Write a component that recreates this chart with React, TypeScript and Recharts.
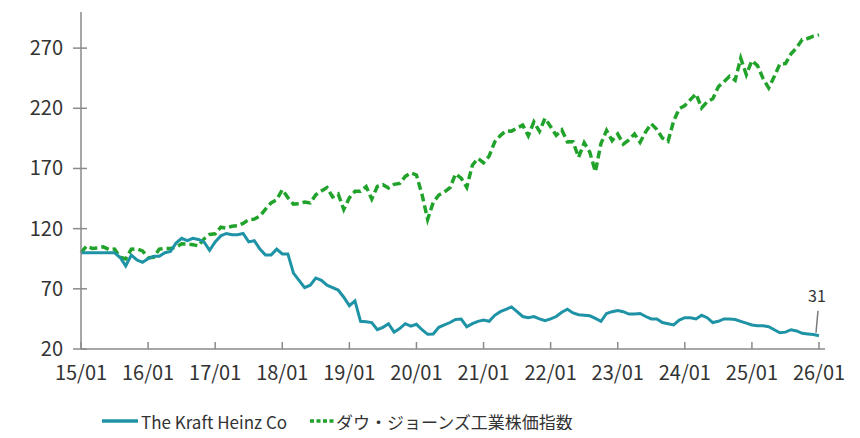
import React from "react";
import { LineChart, Line, XAxis, YAxis, Legend } from "recharts";

// Monthly index values, 2015/01 = 100, from 2015/01 to 2026/01
const kraftHeinz: number[] = [
  100, 100, 100, 100, 100, 100, 100, 96, 89, 98, 94, 92,
  95, 97, 97, 100, 101, 108, 112, 110, 112, 111, 109, 102,
  109, 114, 116, 115, 115, 116, 109, 110, 103, 98, 98, 103,
  99, 99, 83, 77, 71, 73, 79, 77, 73, 71, 69, 63,
  56, 60, 43, 42.7, 42, 36, 38, 41, 34, 37, 41, 39,
  40.5, 36, 32.2, 32.5, 38, 40, 42, 44.5, 44.9, 38.5, 41, 43,
  44, 43, 48, 51, 53, 55, 51, 47, 46, 47, 45, 43.5,
  45, 47, 50.5, 53, 50, 48.5, 48, 47.6, 45.5, 43, 49.5, 51,
  52, 51, 49, 49, 49.5, 47, 45, 45, 42, 41, 40, 44,
  46, 46, 45, 48, 46, 42, 43, 45, 45, 44.5, 43, 41.5,
  40, 39.3, 39.3, 38.5, 36, 33.5, 34, 36, 35, 33, 32.5, 32,
  31,
];

const dowJones: number[] = [
  100, 105.6, 103.6, 103.9, 104.9, 102.7, 103.1, 96.3, 94.9, 102.9, 103.2, 101.5,
  95.9, 96.2, 103.0, 103.5, 103.6, 104.5, 107.4, 107.2, 106.7, 105.7, 111.4, 115.1,
  115.7, 121.2, 120.4, 122.0, 122.4, 124.4, 127.5, 127.9, 130.5, 136.2, 141.4, 144.0,
  152.3, 145.8, 140.4, 140.8, 142.2, 141.4, 148.1, 151.3, 154.1, 146.3, 148.8, 135.9,
  145.6, 151.0, 151.1, 154.9, 144.6, 155.0, 156.5, 153.8, 156.8, 157.6, 163.4, 166.3,
  164.6, 148.2, 127.7, 141.8, 147.9, 150.4, 154.0, 165.6, 161.9, 154.4, 172.7, 178.3,
  174.7, 180.2, 192.1, 197.3, 201.2, 201.0, 203.5, 206.0, 197.2, 208.7, 200.9, 211.7,
  204.7, 197.5, 202.0, 192.1, 192.2, 179.3, 191.4, 183.6, 167.4, 190.7, 201.5, 193.1,
  198.6, 190.3, 193.8, 198.6, 191.7, 200.4, 207.2, 202.3, 195.2, 192.6, 209.4, 219.6,
  222.3, 227.2, 231.9, 220.3, 225.4, 227.9, 237.9, 242.1, 246.6, 243.3, 261.6, 247.9,
  259.5, 255.4, 244.7, 236.9, 246.3, 256.9, 257.1, 265.3, 270.3, 277.1, 278.0, 280.0,
  281,
];

const xTickLabels: string[] = [
  "15/01", "16/01", "17/01", "18/01", "19/01", "20/01",
  "21/01", "22/01", "23/01", "24/01", "25/01", "26/01",
];
const xTickPositions: number[] = xTickLabels.map((_, i) => i * 12);
const yTicks: number[] = [20, 70, 120, 170, 220, 270];

const seriesNames = ["The Kraft Heinz Co", "ダウ・ジョーンズ工業株価指数"];

const data = kraftHeinz.map((v, i) => ({ m: i, khc: v, dj: dowJones[i] }));

const FONT = '"Noto Sans CJK JP", "Noto Sans", sans-serif';
const TEAL = "#1f93a6";
const GREEN = "#21a32b";
const AXIS = "#8a8a8a";
const TEXT = "#333333";

const XTick = (props: any) => {
  const { x, y, payload } = props;
  const label = xTickLabels[Math.round(payload.value / 12)] ?? "";
  return (
    <g>
      <line x1={x} x2={x} y1={y} y2={y - 7} stroke={AXIS} strokeWidth={1.5} />
      <text
        x={x}
        y={y + 24}
        dy="0.35em"
        textAnchor="middle"
        fill={TEXT}
        fontSize={20}
        fontFamily={FONT}
      >
        {label}
      </text>
    </g>
  );
};

const YTick = (props: any) => {
  const { x, y, payload } = props;
  return (
    <g>
      <line x1={x - 8} x2={x + 6} y1={y} y2={y} stroke={AXIS} strokeWidth={1.5} />
      <text
        x={x - 18}
        y={y}
        dy="0.35em"
        textAnchor="end"
        fill={TEXT}
        fontSize={20}
        fontFamily={FONT}
      >
        {payload.value}
      </text>
    </g>
  );
};

const LastLabel = (props: any) => {
  const { x, y, index, value } = props;
  if (index !== kraftHeinz.length - 1) return <g />;
  return (
    <g>
      <line x1={x - 3} y1={y - 3} x2={x - 1} y2={y - 25} stroke="#7a7a7a" strokeWidth={1.5} />
      <text
        x={x - 2}
        y={y - 34}
        textAnchor="middle"
        fill={TEXT}
        fontSize={16}
        fontFamily={FONT}
      >
        {Math.round(value)}
      </text>
    </g>
  );
};

const LegendContent = () => (
  <div
    style={{
      position: "relative",
      height: 41,
      width: 844,
      fontFamily: FONT,
      fontSize: 17,
      color: TEXT,
    }}
  >
    <div style={{ position: "absolute", left: 94, top: 20, display: "flex", alignItems: "center", height: 24 }}>
      <svg width={36} height={6} style={{ marginRight: 3 }}>
        <line x1={0} x2={36} y1={3} y2={3} stroke={TEAL} strokeWidth={3.5} />
      </svg>
      <span style={{ whiteSpace: "nowrap" }}>{seriesNames[0]}</span>
    </div>
    <div style={{ position: "absolute", left: 302, top: 20, display: "flex", alignItems: "center", height: 24 }}>
      <svg width={24} height={6} style={{ marginRight: 2 }}>
        <line x1={0} x2={24} y1={3} y2={3} stroke={GREEN} strokeWidth={3.5} strokeDasharray="4 2.5" />
      </svg>
      <span style={{ whiteSpace: "nowrap" }}>{seriesNames[1]}</span>
    </div>
  </div>
);

export default function App() {
  return (
    <div style={{ width: 844, height: 422, fontFamily: FONT }}>
      <LineChart
        width={844}
        height={422}
        data={data}
        margin={{ top: 4, right: 27, left: 0, bottom: 0 }}
      >
        <XAxis
          dataKey="m"
          type="number"
          domain={[0, 132]}
          ticks={xTickPositions}
          interval={0}
          height={40}
          tickSize={0}
          tickMargin={0}
          tickLine={false}
          tick={<XTick />}
          axisLine={{ stroke: AXIS, strokeWidth: 1.5 }}
          padding={{ left: 0, right: 6 }}
        />
        <YAxis
          type="number"
          domain={[20, 300]}
          ticks={yTicks}
          interval={0}
          width={73}
          tickSize={0}
          tickMargin={0}
          tickLine={false}
          tick={<YTick />}
          axisLine={{ stroke: AXIS, strokeWidth: 1.5 }}
        />
        <Legend
          verticalAlign="bottom"
          content={<LegendContent />}
          wrapperStyle={{ left: 0, width: 844, bottom: 0, height: 41 }}
        />
        <Line
          type="linear"
          dataKey="dj"
          name={seriesNames[1]}
          stroke={GREEN}
          strokeWidth={3.5}
          strokeDasharray="8 4"
          dot={false}
          isAnimationActive={false}
        />
        <Line
          type="linear"
          dataKey="khc"
          name={seriesNames[0]}
          stroke={TEAL}
          strokeWidth={3}
          dot={false}
          label={<LastLabel />}
          isAnimationActive={false}
        />
      </LineChart>
    </div>
  );
}
